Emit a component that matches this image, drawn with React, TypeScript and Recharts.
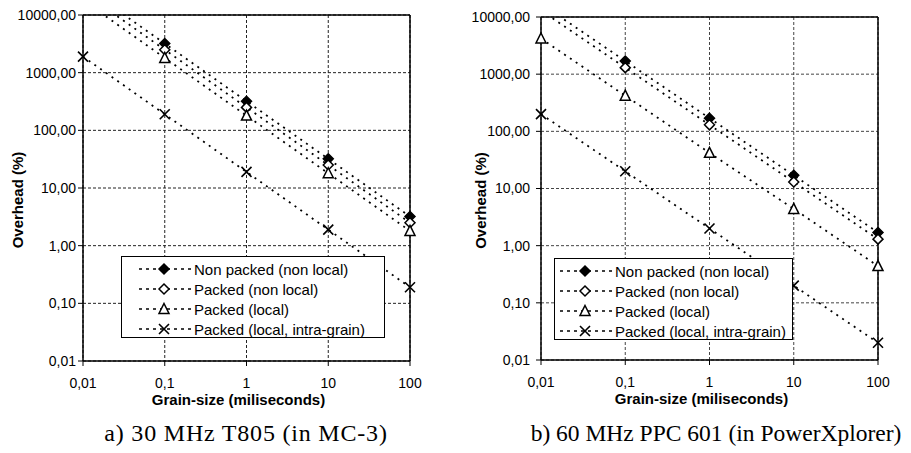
import React from "react";
import {
  LineChart,
  Line,
  XAxis,
  YAxis,
  CartesianGrid,
  ReferenceLine,
  Legend,
  Label,
} from "recharts";

const FONT = '"Liberation Sans", Arial, sans-serif';
const SERIF = '"Liberation Serif", "Times New Roman", serif';

// grain sizes (ms) on the x axis
const grainSizes = [0.01, 0.1, 1, 10, 100];
const xTicks = [0.01, 0.1, 1, 10, 100];
const yTicks = [0.01, 0.1, 1, 10, 100, 1000, 10000];
const yMax = 10000;

const seriesNames = [
  "Non packed (non local)",
  "Packed (non local)",
  "Packed (local)",
  "Packed (local, intra-grain)",
];
const seriesKeys = ["np", "pn", "pl", "pi"];
const seriesMarkers = ["diamondFilled", "diamond", "triangle", "cross"];

// a) 30 MHz T805 (in MC-3) - overhead %
const t805NonPacked = [32000, 3200, 320, 32, 3.2];
const t805PackedNonLocal = [25000, 2500, 250, 25, 2.5];
const t805PackedLocal = [18000, 1800, 180, 18, 1.8];
const t805IntraGrain = [1900, 190, 19, 1.9, 0.19];

// b) 60 MHz PPC 601 (in PowerXplorer) - overhead %
const ppcNonPacked = [17000, 1700, 170, 17, 1.7];
const ppcPackedNonLocal = [13000, 1300, 130, 13, 1.3];
const ppcPackedLocal = [4200, 420, 42, 4.4, 0.44];
const ppcIntraGrain = [200, 20, 2, 0.2, 0.02];

function buildRows(values: number[][]) {
  return grainSizes.map((g, i) => {
    const row: any = { g };
    seriesKeys.forEach((k, s) => {
      const v = values[s][i];
      row[k] = v;
      // markers only where the point is inside the plotted range
      row[k + "Mark"] = v <= yMax ? v : null;
    });
    return row;
  });
}

const fmtX = (v: number) => String(v).replace(".", ",");
const fmtY = (v: number) => v.toFixed(2).replace(".", ",");

function Marker({ kind, cx, cy }: { kind: string; cx: number; cy: number }) {
  if (kind === "diamondFilled" || kind === "diamond") {
    const pts = `${cx},${cy - 5} ${cx + 5},${cy} ${cx},${cy + 5} ${cx - 5},${cy}`;
    return (
      <polygon
        points={pts}
        fill={kind === "diamond" ? "#fff" : "#000"}
        stroke="#000"
        strokeWidth={1.5}
      />
    );
  }
  if (kind === "triangle") {
    const pts = `${cx},${cy - 5.5} ${cx + 5},${cy + 4.5} ${cx - 5},${cy + 4.5}`;
    return <polygon points={pts} fill="#fff" stroke="#000" strokeWidth={1.5} />;
  }
  return (
    <path
      d={`M${cx - 5},${cy - 5}L${cx + 5},${cy + 5}M${cx + 5},${cy - 5}L${cx - 5},${cy + 5}`}
      stroke="#000"
      strokeWidth={1.6}
      fill="none"
    />
  );
}

function LegendBox({ padLeft }: { padLeft: number }) {
  return (
    <div
      style={{
        boxSizing: "border-box",
        width: "100%",
        height: "100%",
        border: "1px solid #000",
        background: "#fff",
        paddingTop: 2,
        paddingLeft: padLeft,
        fontFamily: FONT,
        fontSize: 15,
        color: "#000",
      }}
    >
      {seriesNames.map((n, i) => (
        <div
          key={n}
          style={{ display: "flex", alignItems: "center", height: 20, whiteSpace: "nowrap" }}
        >
          <svg width={52} height={14} style={{ flex: "none" }}>
            <line x1={0} y1={7} x2={52} y2={7} stroke="#000" strokeWidth={1.5} strokeDasharray="3 4" />
            <Marker kind={seriesMarkers[i]} cx={25} cy={7} />
          </svg>
          <span style={{ marginLeft: 3 }}>{n}</span>
        </div>
      ))}
    </div>
  );
}

const titleStyle = { fontFamily: FONT, fontSize: 15, fontWeight: 700, fill: "#000" } as const;
const tickStyle = { fontFamily: FONT, fontSize: 14, fill: "#000" };

function OverheadChart(props: {
  values: number[][];
  width: number;
  yAxisWidth: number;
  margin: any;
  yTickMargin: number;
  yTitleX: number;
  legend: { left: number; top: number; width: number; height: number; padLeft: number };
  gridColor: string;
}) {
  const { values, width, yAxisWidth, margin, yTickMargin, yTitleX, legend, gridColor } = props;
  const rows = buildRows(values);
  return (
    <LineChart width={width} height={453} data={rows} margin={margin}>
      <CartesianGrid yAxisId="v" stroke={gridColor} strokeDasharray="3 2" />
      <XAxis
        dataKey="g"
        type="number"
        scale="log"
        domain={[0.01, 100]}
        ticks={xTicks}
        tickFormatter={fmtX}
        height={44}
        tickSize={5}
        tickMargin={12}
        interval={0}
        axisLine={{ stroke: "#000", strokeWidth: 1.5 }}
        tickLine={{ stroke: "#000" }}
        tick={tickStyle}
      >
        <Label
          content={(p: any) => {
            const vb = p.viewBox;
            return (
              <text x={vb.x + vb.width / 2 - 8} y={vb.y + 44} textAnchor="middle" style={titleStyle}>
                Grain-size (miliseconds)
              </text>
            );
          }}
        />
      </XAxis>
      <YAxis
        yAxisId="v"
        type="number"
        scale="log"
        domain={[0.01, yMax]}
        allowDataOverflow
        ticks={yTicks}
        tickFormatter={fmtY}
        width={yAxisWidth}
        tickSize={5}
        tickMargin={yTickMargin}
        interval={0}
        axisLine={{ stroke: "#000", strokeWidth: 1.5 }}
        tickLine={{ stroke: "#000" }}
        tick={tickStyle}
      >
        <Label
          content={(p: any) => {
            const vb = p.viewBox;
            const cy = vb.y + vb.height / 2 + 12;
            return (
              <text
                transform={`translate(${yTitleX},${cy}) rotate(-90)`}
                textAnchor="middle"
                dominantBaseline="central"
                style={titleStyle}
              >
                Overhead (%)
              </text>
            );
          }}
        />
      </YAxis>
      <YAxis
        yAxisId="m"
        type="number"
        scale="log"
        domain={[0.01, yMax]}
        orientation="right"
        width={0}
        hide
      />
      <ReferenceLine yAxisId="v" y={yMax} stroke="#000" strokeWidth={1.5} />
      <ReferenceLine yAxisId="v" x={100} stroke="#000" strokeWidth={1.5} />
      {seriesKeys.map((k) => (
        <Line
          key={k}
          yAxisId="v"
          dataKey={k}
          stroke="#000"
          strokeWidth={1.8}
          strokeDasharray="2 5"
          dot={false}
          activeDot={false}
          isAnimationActive={false}
          legendType="none"
        />
      ))}
      {seriesKeys.map((k, s) => (
        <Line
          key={k + "Mark"}
          yAxisId="m"
          dataKey={k + "Mark"}
          stroke="none"
          activeDot={false}
          isAnimationActive={false}
          legendType="none"
          dot={(p: any) =>
            p.cy == null || p.cx == null ? (
              <g key={`${k}-${p.index}`} />
            ) : (
              <g key={`${k}-${p.index}`}>
                <Marker kind={seriesMarkers[s]} cx={p.cx} cy={p.cy} />
              </g>
            )
          }
        />
      ))}
      <Legend
        layout="vertical"
        align="center"
        verticalAlign="middle"
        wrapperStyle={{
          left: legend.left,
          top: legend.top,
          width: legend.width,
          height: legend.height,
        }}
        content={() => <LegendBox padLeft={legend.padLeft} />}
      />
    </LineChart>
  );
}

const captionStyle = {
  position: "absolute",
  top: 421,
  width: 440,
  textAlign: "center",
  fontFamily: SERIF,
  lineHeight: "24px",
  color: "#000",
  whiteSpace: "nowrap",
} as const;

export default function App() {
  return (
    <div
      style={{
        position: "absolute",
        left: 0,
        top: 0,
        width: 911,
        height: 453,
        background: "#fff",
        overflow: "hidden",
      }}
    >
      <div style={{ position: "absolute", left: 0, top: 0 }}>
        <OverheadChart
          values={[t805NonPacked, t805PackedNonLocal, t805PackedLocal, t805IntraGrain]}
          width={455}
          yAxisWidth={83}
          margin={{ top: 15, right: 45, bottom: 48, left: 0 }}
          yTickMargin={2}
          yTitleX={17}
          legend={{ left: 121, top: 256, width: 264, height: 82, padLeft: 17 }}
          gridColor="#222"
        />
      </div>
      <div style={{ position: "absolute", left: 455, top: 0 }}>
        <OverheadChart
          values={[ppcNonPacked, ppcPackedNonLocal, ppcPackedLocal, ppcIntraGrain]}
          width={456}
          yAxisWidth={86}
          margin={{ top: 17, right: 33, bottom: 49, left: 0 }}
          yTickMargin={6}
          yTitleX={25}
          legend={{ left: 99, top: 258, width: 239, height: 82, padLeft: 5 }}
          gridColor="#444"
        />
      </div>
      <div style={{ ...captionStyle, left: 26, fontSize: 24, letterSpacing: 0.8 }}>
        a) 30 MHz T805 (in MC-3)
      </div>
      <div style={{ ...captionStyle, left: 496, fontSize: 23.5 }}>
        b) 60 MHz PPC 601 (in PowerXplorer)
      </div>
    </div>
  );
}
